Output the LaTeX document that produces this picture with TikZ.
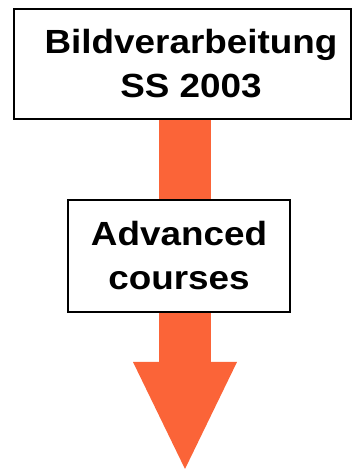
\documentclass[tikz,border=0pt]{standalone}
\usepackage{graphicx}
\usepackage{fontspec}
\setmainfont{Liberation Sans}
\usetikzlibrary{arrows.meta,backgrounds}
\definecolor{arrowred}{RGB}{251,100,56}
\newcommand{\wtxt}[1]{\scalebox{1.1}[1]{#1}}
\newcommand{\shtxt}[1]{\hspace*{18pt}\wtxt{#1}}
\tikzset{
  titlebox/.style={draw, line width=2pt, fill=white, align=center,
    font=\bfseries\fontsize{33.5}{44}\selectfont, inner sep=0pt},
}

\begin{document}
\begin{tikzpicture}[x=1pt,y=1pt]
      \useasboundingbox (0,0) rectangle (354,470);
      \node[titlebox, minimum width=337pt, minimum height=110pt] (top) at (182,406)
        {\shtxt{Bildverarbeitung}\\\shtxt{SS 2003}};
      \node[titlebox, minimum width=222pt, minimum height=112pt] (adv) at (179,214)
        {\wtxt{Advanced}\\\wtxt{courses}};
      \coordinate (tip) at (185,1);
      \begin{scope}[on background layer]
      \draw[arrowred, line width=52pt,
        -{Triangle[width=104pt,length=107pt,line width=0pt]}]
        (top.south -| tip) -- (tip);
      \end{scope}
    \end{tikzpicture}
\end{document}
